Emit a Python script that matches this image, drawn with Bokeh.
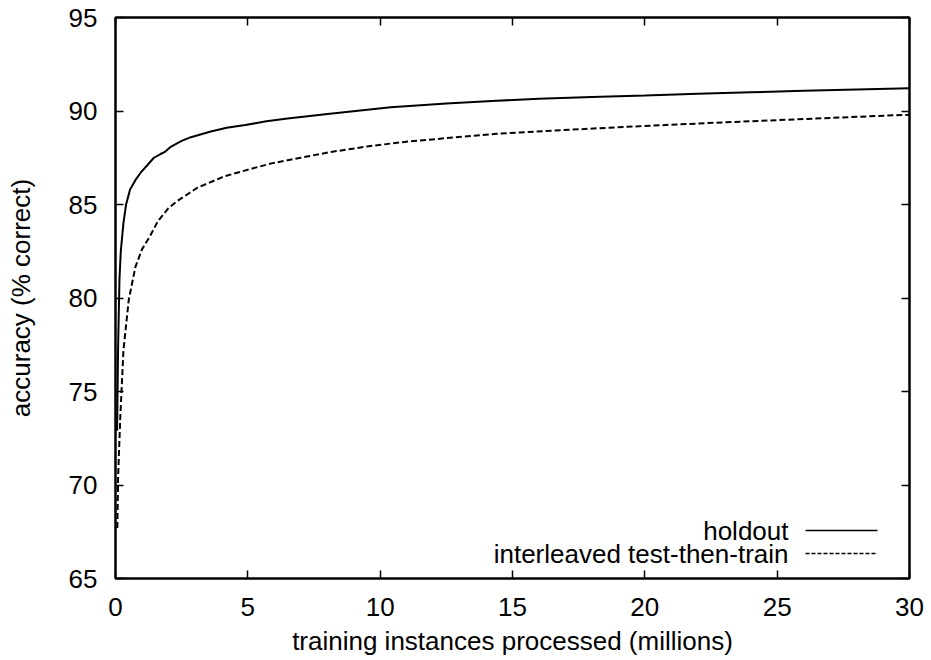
from bokeh.plotting import figure
from bokeh.models import Range1d, LinearAxis, FixedTicker, Label, Arrow
from bokeh.embed import file_html
from bokeh.resources import INLINE

# ---- data ----
holdout_x = [0.06, 0.10, 0.15, 0.2, 0.3, 0.4, 0.55, 0.75, 0.95, 1.2, 1.45, 1.7, 1.85, 2.1,
             2.5, 2.85, 3.6, 4.2, 4.9, 5.7, 6.5, 8.1, 10.4, 12.5, 14.4, 16, 18, 20, 22,
             24, 26, 28, 30]
holdout_y = [72.9, 77.5, 81.0, 82.5, 84.0, 85.0, 85.8, 86.3, 86.7, 87.1, 87.5, 87.7, 87.8,
             88.1, 88.4, 88.6, 88.9, 89.1, 89.25, 89.45, 89.6, 89.85, 90.2, 90.4, 90.55,
             90.65, 90.75, 90.83, 90.92, 91.0, 91.08, 91.15, 91.22]

itt_x = [0.07, 0.1, 0.18, 0.3, 0.5, 0.75, 1.0, 1.3, 1.6, 2.0, 2.35, 3.1, 4.1, 5.1, 5.9, 7.0,
         8.1, 9.5, 10.8, 12.5, 14.4, 16.5, 18.3, 20, 22, 24, 26, 28, 30]
itt_y = [67.7, 70.5, 73.6, 77.2, 79.9, 81.65, 82.6, 83.3, 84.1, 84.8, 85.2, 85.9, 86.5, 86.9,
         87.2, 87.5, 87.8, 88.1, 88.33, 88.55, 88.78, 88.95, 89.08, 89.2, 89.33, 89.45,
         89.57, 89.69, 89.8]

x_ticks = [0, 5, 10, 15, 20, 25, 30]
y_ticks = [65, 70, 75, 80, 85, 90, 95]
series_names = ["holdout", "interleaved test-then-train"]

FONT = "Liberation Sans"
FS = "26px"

p = figure(width=931, height=660, x_range=Range1d(0, 30), y_range=Range1d(65, 95),
           output_backend="svg", toolbar_location=None,
           min_border_left=115, min_border_right=22, min_border_top=17, min_border_bottom=82,
           x_axis_label="training instances processed (millions)",
           y_axis_label="accuracy (% correct)")
p.grid.visible = False
p.outline_line_color = "black"
p.outline_line_width = 2
p.background_fill_color = "white"
p.border_fill_color = "white"

def style_axis(ax, ticks, show_labels=True):
    ax.ticker = FixedTicker(ticks=ticks)
    ax.axis_line_color = "black"
    ax.axis_line_width = 2
    ax.major_tick_in = 8
    ax.major_tick_out = 0
    ax.major_tick_line_width = 1.5
    ax.major_tick_line_color = "black"
    ax.minor_tick_line_color = None
    ax.major_label_text_font = FONT
    ax.axis_label_text_font = FONT
    ax.axis_label_text_font_size = FS
    ax.axis_label_text_font_style = "normal"
    ax.axis_label_text_color = "black"
    if show_labels:
        ax.major_label_text_font_size = FS
        ax.major_label_text_color = "black"
    else:
        ax.major_label_text_font_size = "1px"
        ax.major_label_text_color = None
        ax.major_label_standoff = 0

style_axis(p.xaxis[0], x_ticks)
style_axis(p.yaxis[0], y_ticks)
p.xaxis[0].major_label_standoff = 19
p.xaxis[0].axis_label_standoff = 7
p.yaxis[0].major_label_standoff = 18
p.yaxis[0].axis_label_standoff = 30

top = LinearAxis()
style_axis(top, x_ticks, show_labels=False)
p.add_layout(top, "above")
right = LinearAxis()
style_axis(right, y_ticks, show_labels=False)
p.add_layout(right, "right")

p.line(holdout_x, holdout_y, line_color="black", line_width=2)
p.line(itt_x, itt_y, line_color="black", line_width=2, line_dash="6 3")

# gnuplot-style key: label right-aligned, sample to its right (screen units, frame-relative)
key_rows = [48, 25]
for name, row, dash, lw in zip(series_names, key_rows, ["solid", "4 2"], [1.5, 1.3]):
    p.add_layout(Label(x=673, y=row, x_units="screen", y_units="screen", text=name,
                       text_align="right", text_baseline="middle", text_font=FONT,
                       text_font_size=FS, text_color="black"))
    p.add_layout(Arrow(end=None, x_start=690, y_start=row, x_end=762, y_end=row,
                       start_units="screen", end_units="screen",
                       line_color="black", line_width=lw, line_dash=dash))

open("out.html", "w").write(file_html(p, INLINE))
